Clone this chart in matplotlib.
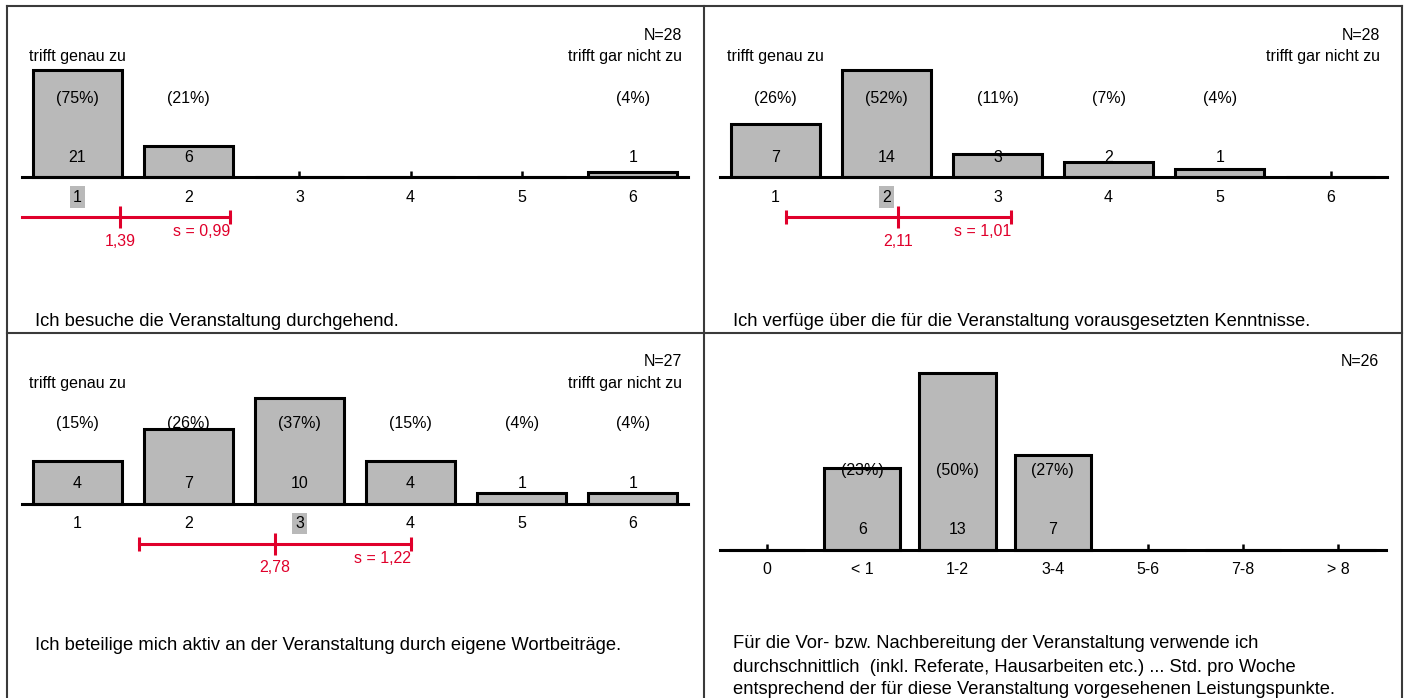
import matplotlib
matplotlib.use('Agg')
from matplotlib import pyplot as plt
from matplotlib.lines import Line2D
import matplotlib.transforms as mtransforms

plt.rcParams['font.family'] = ['Liberation Sans', 'DejaVu Sans']
plt.rcParams['font.size'] = 11.5

W, H = 1406, 698
GREY = '#b9b9b9'
RED = '#e0002b'

# --- data ---
scale_labels = ['1', '2', '3', '4', '5', '6']
hours_labels = ['0', '< 1', '1-2', '3-4', '5-6', '7-8', '> 8']

counts_attend = [21, 6, 0, 0, 0, 1]
pct_attend = ['(75%)', '(21%)', '', '', '', '(4%)']
counts_knowledge = [7, 14, 3, 2, 1, 0]
pct_knowledge = ['(26%)', '(52%)', '(11%)', '(7%)', '(4%)', '']
counts_active = [4, 7, 10, 4, 1, 1]
pct_active = ['(15%)', '(26%)', '(37%)', '(15%)', '(4%)', '(4%)']
counts_hours = [0, 6, 13, 7, 0, 0, 0]
pct_hours = ['', '(23%)', '(50%)', '(27%)', '', '', '']

n_values = [28, 28, 27, 26]
means = [1.39, 2.11, 2.78]
sds = [0.99, 1.01, 1.22]

questions = [
    ['Ich besuche die Veranstaltung durchgehend.'],
    ['Ich verfüge über die für die Veranstaltung vorausgesetzten Kenntnisse.'],
    ['Ich beteilige mich aktiv an der Veranstaltung durch eigene Wortbeiträge.'],
    ['Für die Vor- bzw. Nachbereitung der Veranstaltung verwende ich',
     'durchschnittlich  (inkl. Referate, Hausarbeiten etc.) ... Std. pro Woche',
     'entsprechend der für diese Veranstaltung vorgesehenen Leistungspunkte.'],
]


def fmt(v):
    return f'{v:.2f}'.replace('.', ',')


def add_ax(fig, x0, x1, base, h):
    return fig.add_axes([x0 / W, (H - base) / H, (x1 - x0) / W, h / H])


def label(ax, text, x, dy, xy_coords='data', dx=0, **kw):
    ax.annotate(text, xy=(x, 0), xycoords=(xy_coords, 'axes fraction'),
                xytext=(dx, dy), textcoords='offset pixels',
                va='center', annotation_clip=False, **kw)


def draw_panel(ax, cats, counts, pcts, n, q_lines, mean=None, sd=None,
               scale_ends=True, pct_dy=79, n_dy=142, q_dy=-144):
    xs = list(range(len(cats))) if cats is hours_labels else [i + 1 for i in range(len(cats))]
    ax.bar(xs, counts, width=0.8, color=GREY, edgecolor='black',
           linewidth=2.2, clip_on=False, zorder=2)
    ax.set_xlim(xs[0] - 0.5, xs[-1] + 0.5)
    ax.set_ylim(0, max(counts))
    for s in ['left', 'right', 'top']:
        ax.spines[s].set_visible(False)
    ax.spines['bottom'].set_linewidth(2.2)
    ax.spines['bottom'].set_zorder(3)
    ax.set_yticks([])
    ax.set_xticks(xs, cats)
    ax.tick_params(axis='x', direction='in', length=4, width=1.8, pad=9,
                   labelsize=11.5)
    ax.patch.set_visible(False)

    for x, c, p in zip(xs, counts, pcts):
        if c:
            label(ax, str(c), x, 20, ha='center')
            label(ax, p, x, pct_dy, ha='center')

    label(ax, f'N={n}', 1, n_dy, xy_coords='axes fraction', dx=-6.5, ha='right')
    if scale_ends:
        label(ax, 'trifft genau zu', 0, 120, xy_coords='axes fraction', dx=7.5, ha='left')
        label(ax, 'trifft gar nicht zu', 1, 120, xy_coords='axes fraction', dx=-6.5, ha='right')

    for k, line in enumerate(q_lines):
        label(ax, line, 0, q_dy - 23 * k, xy_coords='axes fraction',
              dx=13.5, ha='left', fontsize=13.2)

    if mean is not None:
        # highlight the tick label nearest the mean
        idx = int(round(mean)) - xs[0]
        ax.get_xticklabels()[idx].set_bbox(
            dict(facecolor=GREY, edgecolor='none', pad=2.2))

        def ytr(dy):
            return ax.get_xaxis_transform() + mtransforms.ScaledTranslation(
                0, dy / 100, ax.figure.dpi_scale_trans)

        lo_lim, hi_lim = ax.get_xlim()
        lo, hi = mean - sd, mean + sd
        ax.add_line(Line2D([max(lo, lo_lim), min(hi, hi_lim)], [0, 0],
                           transform=ytr(-40), color=RED, lw=2.2, clip_on=False))
        for e in (lo, hi):
            if lo_lim <= e <= hi_lim:
                ax.add_line(Line2D([e], [0], transform=ytr(-40),
                                   marker='|', markersize=10, mew=2.2,
                                   color=RED, clip_on=False))
        ax.add_line(Line2D([mean], [0], transform=ytr(-40), marker='|',
                           markersize=16, mew=2.2, color=RED, clip_on=False))
        label(ax, fmt(mean), mean, -64, ha='center', color=RED)
        label(ax, f's = {fmt(sd)}', hi, -55, ha='right', color=RED)


fig = plt.figure(figsize=(W / 100, H / 100), dpi=100)

# panel borders
for xs_, ys_ in [([7, 1402], [6, 6]), ([7, 1402], [333, 333]),
                 ([7, 7], [6, 698]), ([704, 704], [6, 698]),
                 ([1402, 1402], [6, 698])]:
    fig.add_artist(Line2D([x / W for x in xs_], [1 - y / H for y in ys_],
                          color='#3a3a3a', lw=1.5))

ax1 = add_ax(fig, 21.5, 688.5, 177, 107)
draw_panel(ax1, scale_labels, counts_attend, pct_attend, n_values[0],
           questions[0], means[0], sds[0])

ax2 = add_ax(fig, 719.5, 1386.5, 177, 107)
draw_panel(ax2, scale_labels, counts_knowledge, pct_knowledge, n_values[1],
           questions[1], means[1], sds[1])

ax3 = add_ax(fig, 21.5, 688.5, 503.5, 106)
draw_panel(ax3, scale_labels, counts_active, pct_active, n_values[2],
           questions[2], means[2], sds[2], pct_dy=80, q_dy=-142)

ax4 = add_ax(fig, 719.5, 1386, 550, 177)
draw_panel(ax4, hours_labels, counts_hours, pct_hours, n_values[3],
           questions[3], scale_ends=False, pct_dy=80, n_dy=188, q_dy=-94)

fig.savefig('out.png', dpi=100)
